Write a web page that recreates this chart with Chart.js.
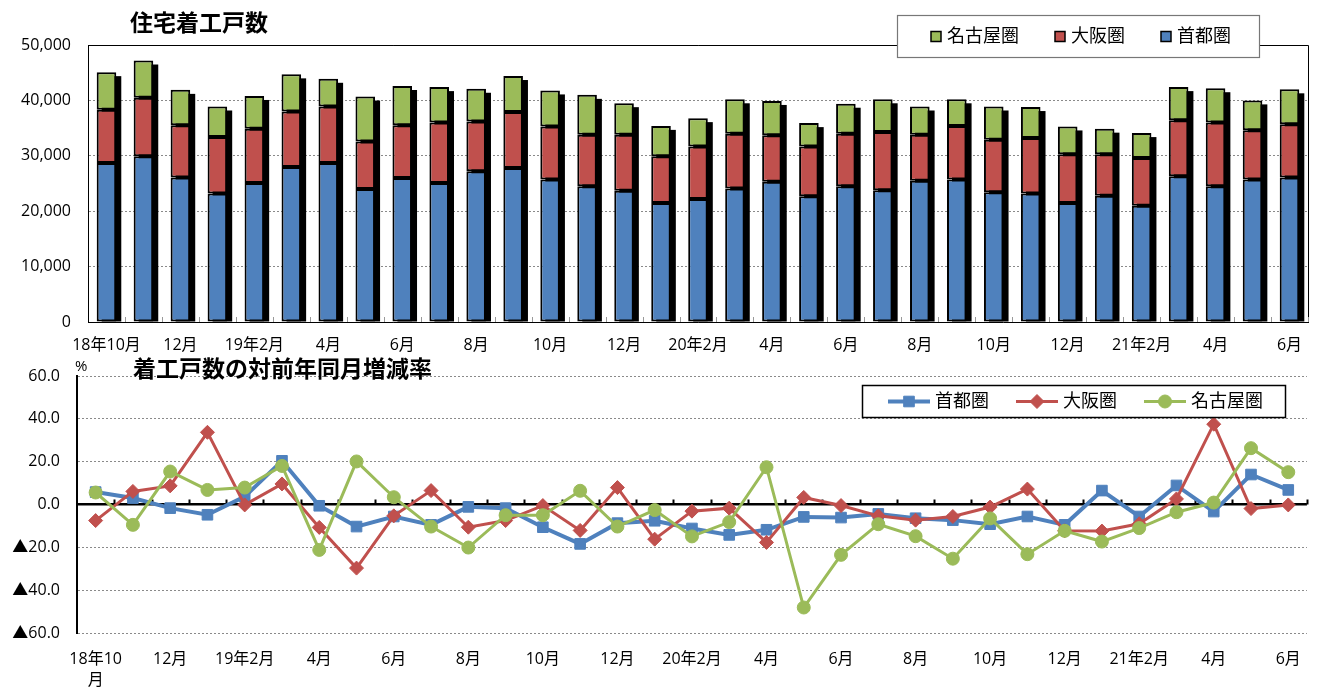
<!DOCTYPE html>
<html><head><meta charset="utf-8">
<script src="https://cdn.jsdelivr.net/npm/chart.js@4/dist/chart.umd.min.js"></script>
<style>
body{margin:0;width:1317px;height:688px;background:#fff;overflow:hidden;position:relative;font-family:'Open Sans','Noto Sans CJK JP',sans-serif;}
canvas{position:absolute;left:0;}
#c1{top:0}
#c2{top:355px}
.t{position:absolute;font-weight:bold;font-size:23px;line-height:23px;color:#000;font-family:'Noto Sans CJK JP',sans-serif;white-space:nowrap;letter-spacing:0}
</style></head><body>
<canvas id="c1" width="1317" height="360"></canvas>
<canvas id="c2" width="1317" height="333"></canvas>
<div class="t" style="left:130px;top:10px">住宅着工戸数</div>
<div class="t" style="left:133px;top:356px">着工戸数の対前年同月増減率</div>
<div style="position:absolute;left:75px;top:358px;font-size:15px;line-height:15px;color:#000">%</div>
<script>
// ---- data ----
const categories = ['18年10月','11月','12月','1月','19年2月','3月','4月','5月','6月','7月','8月','9月','10月','11月','12月','1月','20年2月','3月','4月','5月','6月','7月','8月','9月','10月','11月','12月','1月','21年2月','3月','4月','5月','6月'];
const lineTickLabels = [['18年10','月'],'11月','12月','1月','19年2月','3月','4月','5月','6月','7月','8月','9月','10月','11月','12月','1月','20年2月','3月','4月','5月','6月','7月','8月','9月','10月','11月','12月','1月','21年2月','3月','4月','5月','6月'];
const seriesNames = ['首都圏','大阪圏','名古屋圏'];
// 着工戸数 (戸)
const shutoStarts  = [28700,29900,26100,23200,25100,28000,28700,24000,26000,25100,27200,27800,25700,24500,23700,21500,22200,24100,25300,22700,24500,23800,25500,25700,23400,23200,21500,22800,21000,26300,24500,25700,26100];
const osakaStarts  = [9600,10600,9400,10200,9800,10000,10200,8600,9500,10900,9000,10100,9600,9300,10100,8400,9500,9900,8400,9000,9500,10500,8300,9700,9500,10000,8800,7500,8600,10100,11500,8900,9600];
const nagoyaStarts = [6800,6700,6400,5500,5900,6700,5000,8100,7100,6400,5900,6500,6500,7200,5700,5500,5100,6200,6200,4200,5400,5900,5100,4800,6000,5600,5000,4600,4500,6000,6200,5400,6300];
// 対前年同月増減率 (%)
const shutoRate  = [5.8,3.0,-1.7,-4.8,3.7,20.4,-0.6,-10.3,-5.6,-9.5,-1.1,-1.7,-10.6,-18.4,-8.7,-7.6,-11.2,-14.2,-11.8,-5.8,-6.1,-4.4,-6.4,-7.3,-9.2,-5.6,-9.5,6.5,-5.6,8.9,-3.3,14.0,6.8];
const osakaRate  = [-7.5,6.1,8.7,33.7,-0.2,9.6,-10.7,-29.7,-5.3,6.5,-10.6,-7.5,-0.5,-12.1,7.9,-16.2,-3.1,-1.7,-17.7,3.3,-0.5,-5.3,-7.3,-5.6,-1.2,7.2,-12.3,-12.4,-9.0,2.6,37.5,-1.9,-0.2];
const nagoyaRate = [5.6,-9.5,15.4,6.8,7.9,18.0,-21.2,20.1,3.4,-10.3,-20.1,-5.0,-5.0,6.4,-10.3,-2.6,-14.9,-8.2,17.4,-48.1,-23.5,-9.2,-14.8,-25.3,-6.5,-23.2,-12.3,-17.3,-11.0,-3.6,0.9,26.3,15.1];
const starTicks = [0,10000,20000,30000,40000,50000];
const rateTicks = [-60,-40,-20,0,20,40,60];

const BLUE='#4F81BD', RED='#C0504D', GREEN='#9BBB59';
const FONT="'Open Sans','Noto Sans CJK JP',sans-serif";
Chart.defaults.font.family = FONT;
Chart.defaults.color = '#000';

// ---- plugins ----
const barShadow = {id:'barShadow', beforeDatasetsDraw(chart){
  const ctx=chart.ctx, n=chart.data.datasets.length;
  const topMeta=chart.getDatasetMeta(n-1), botMeta=chart.getDatasetMeta(0);
  ctx.save(); ctx.fillStyle='#000';
  topMeta.data.forEach((el,i)=>{
    const p=el.getProps(['x','y','width'],true);
    const base=botMeta.data[i].getProps(['base'],true).base;
    ctx.fillRect(p.x-p.width/2+5, p.y+4, p.width, base-p.y-4);
  });
  ctx.restore();
}};
const frame = {id:'frame', beforeDatasetsDraw(chart,args,o){
  if(!o.draw) return;
  const a=chart.chartArea, ctx=chart.ctx;
  ctx.save(); ctx.strokeStyle='#000'; ctx.lineWidth=1;
  ctx.beginPath(); ctx.moveTo(a.left,a.top+0.5); ctx.lineTo(a.right+0.5,a.top+0.5); ctx.lineTo(a.right+0.5,a.bottom); ctx.stroke();
  ctx.restore();
}};
const catTicks = {id:'catTicks', beforeDatasetsDraw(chart,args,o){
  const xs=chart.scales.x, ys=chart.scales.y, ctx=chart.ctx;
  const y0=ys.getPixelForValue(0), n=chart.data.labels.length;
  const step=xs.getPixelForValue(1)-xs.getPixelForValue(0);
  ctx.save(); ctx.strokeStyle=o.color; ctx.lineWidth=o.width; ctx.beginPath();
  for(let i=1;i<=n;i++){ const x=Math.round(xs.getPixelForValue(0)-step/2+i*step)+0.5; ctx.moveTo(x,y0); ctx.lineTo(x,y0-o.len); }
  ctx.stroke(); ctx.restore();
}};
const boxLegend = {id:'boxLegend', afterDraw(chart,args,o){
  const ctx=chart.ctx; ctx.save();
  ctx.fillStyle='#fff'; ctx.fillRect(o.x,o.y,o.w,o.h);
  ctx.strokeStyle=o.border; ctx.lineWidth=o.borderWidth; ctx.strokeRect(o.x+0.5,o.y+0.5,o.w,o.h);
  ctx.font=o.font; ctx.textBaseline='middle';
  let cx=o.x+o.padLeft; const cy=o.y+o.h/2+0.5;
  o.order.forEach(di=>{
    const ds=chart.data.datasets[di];
    if(o.kind==='box'){
      ctx.fillStyle=ds.backgroundColor; ctx.fillRect(cx,cy-5,10,10);
      ctx.strokeStyle='#000'; ctx.lineWidth=1.5; ctx.strokeRect(cx,cy-5,10,10);
      cx+=11+o.gap1;
    } else {
      ctx.strokeStyle=ds.borderColor; ctx.lineWidth=ds.borderWidth;
      ctx.beginPath(); ctx.moveTo(cx,cy); ctx.lineTo(cx+42,cy); ctx.stroke();
      ctx.fillStyle=ds.pointBackgroundColor; ctx.strokeStyle=ds.pointBorderColor; ctx.lineWidth=1;
      Chart.helpers.drawPoint(ctx,{pointStyle:ds.pointStyle,radius:ds.pointRadius,borderWidth:1,rotation:0},cx+21,cy);
      cx+=42+o.gap1;
    }
    ctx.fillStyle='#000'; ctx.fillText(ds.label,cx,cy);
    cx+=ctx.measureText(ds.label).width+o.gap2;
  });
  ctx.restore();
}};

// ---- chart 1: stacked bars ----
new Chart(document.getElementById('c1'),{
  type:'bar',
  data:{labels:categories,datasets:[
    {label:seriesNames[0],data:shutoStarts,backgroundColor:BLUE},
    {label:seriesNames[1],data:osakaStarts,backgroundColor:RED},
    {label:seriesNames[2],data:nagoyaStarts,backgroundColor:GREEN}
  ]},
  options:{
    responsive:false,animation:false,devicePixelRatio:1,
    layout:{padding:{top:45,right:9,left:0,bottom:0}},
    datasets:{bar:{categoryPercentage:1,barPercentage:0.53,borderColor:'#000',borderWidth:2,borderSkipped:false}},
    plugins:{legend:{display:false},tooltip:{enabled:false},
      frame:{draw:true},
      catTicks:{color:'#999',width:1,len:5},
      boxLegend:{kind:'box',x:897,y:15,w:362,h:42,border:'#777',borderWidth:1.2,padLeft:34,gap1:5,gap2:36,order:[2,1,0],font:"18px "+FONT}
    },
    scales:{
      x:{stacked:true,grid:{display:false,drawTicks:false},border:{color:'#000',width:1},
         ticks:{autoSkip:false,maxRotation:0,padding:14,font:{size:16},color:'#000',
           callback:function(v,i){return i%2===0?categories[i]:'';}},
         afterFit:s=>{s.height=38;}},
      y:{stacked:true,min:0,max:50000,
         afterBuildTicks:s=>{s.ticks=starTicks.map(v=>({value:v}));},
         ticks:{padding:17,font:{size:16},color:'#000',callback:v=>v.toLocaleString('en-US')},
         grid:{color:'#8a8a8a',lineWidth:1,drawTicks:false},
         border:{color:'#000',width:1,dash:[2,2]},
         afterFit:s=>{s.width=88;s.paddingTop=0;s.paddingBottom=0;}}
    }
  },
  plugins:[barShadow,frame,catTicks,boxLegend]
});

// ---- chart 2: lines ----
new Chart(document.getElementById('c2'),{
  type:'line',
  data:{labels:categories,datasets:[
    {label:seriesNames[0],data:shutoRate,borderColor:BLUE,borderWidth:4,pointStyle:'rect',pointRadius:7.5,pointBackgroundColor:BLUE,pointBorderColor:BLUE,pointBorderWidth:1,order:3},
    {label:seriesNames[1],data:osakaRate,borderColor:RED,borderWidth:3,pointStyle:'rectRot',pointRadius:7,pointBackgroundColor:RED,pointBorderColor:RED,pointBorderWidth:1,order:2},
    {label:seriesNames[2],data:nagoyaRate,borderColor:GREEN,borderWidth:3,pointStyle:'circle',pointRadius:6.5,pointBackgroundColor:GREEN,pointBorderColor:GREEN,pointBorderWidth:1,order:1}
  ]},
  options:{
    responsive:false,animation:false,devicePixelRatio:1,
    layout:{padding:{top:21,right:10,left:0,bottom:0}},
    elements:{line:{tension:0}},
    plugins:{legend:{display:false},tooltip:{enabled:false},
      catTicks:{color:'#000',width:2,len:5},
      boxLegend:{kind:'line',x:862,y:30,w:423,h:32,border:'#000',borderWidth:1.5,padLeft:26,gap1:5,gap2:27,order:[0,1,2],font:"18px "+FONT}
    },
    scales:{
      x:{offset:true,grid:{display:false,drawTicks:false},border:{display:false},
         ticks:{autoSkip:false,maxRotation:0,padding:16,font:{size:16,lineHeight:1.3},color:'#000',
           callback:function(v,i){return i%2===0?lineTickLabels[i]:'';}},
         afterFit:s=>{s.height=55;}},
      y:{min:-60,max:60,
         afterBuildTicks:s=>{s.ticks=rateTicks.map(v=>({value:v}));},
         ticks:{padding:17,font:{size:16},color:'#000',callback:v=>(v<0?'▲'+Math.abs(v).toFixed(1):v.toFixed(1))},
         grid:{color:c=>(c.tick&&c.tick.value===0?'#000':'#8a8a8a'),lineWidth:c=>(c.tick&&c.tick.value===0?2.5:1),drawTicks:false},
         border:{color:'#000',width:2,dash:c=>(c.tick&&c.tick.value===0?[]:[2,2])},
         afterFit:s=>{s.width=77;s.paddingTop=0;s.paddingBottom=0;}}
    }
  },
  plugins:[catTicks,boxLegend]
});
</script>
</body></html>
